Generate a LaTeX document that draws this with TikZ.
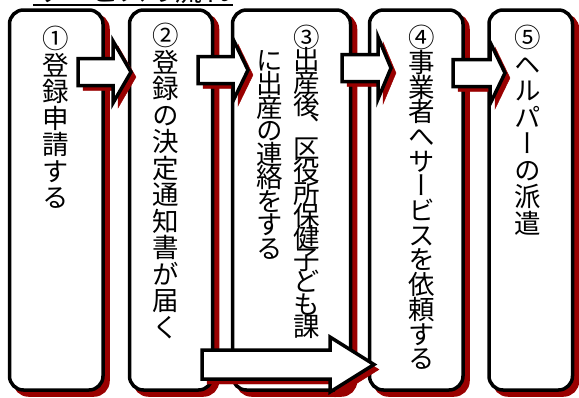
\documentclass[tikz,border=0pt]{standalone}
\usepackage{fontspec}
\usepackage{tikz}
\usetikzlibrary{shadows}
\newfontfamily\jpfont{Noto Sans CJK JP}
\newfontfamily\jpvert[RawFeature=+vert]{Noto Sans CJK JP}
\definecolor{shadowred}{RGB}{153,0,0}

\begin{document}
\begin{tikzpicture}
  [x=1pt,y=-1pt,
   stepbox/.style={draw,fill=white,line width=3.5pt,rounded corners=14pt,minimum height=380pt,inner sep=0pt,
     drop shadow={shadow xshift=5pt,shadow yshift=-5pt,fill=shadowred,draw=shadowred,opacity=1}},
   steptext/.style={anchor=north,align=center,inner sep=0pt,
     font={\jpvert\fontsize{26.5}{#1}\selectfont\lineskiplimit=-100pt}},
   steptext/.default=26.5,
   flowarrow/.style={draw,fill=white,line width=3.5pt,line join=miter,
     drop shadow={shadow xshift=5pt,shadow yshift=-5pt,fill=shadowred,draw=shadowred,opacity=1}}]

  \useasboundingbox (0,0) rectangle (579,397);
  \clip (0,0) rectangle (579,397);

  \node[font=\jpfont\fontsize{28}{30}\selectfont,anchor=base,inner sep=2pt] (title) at (133,1.5) {サービスの流れ};
  \draw[line width=2pt] ([yshift=-3.5pt]title.base west) -- ([yshift=-3.5pt]title.base east);

  \foreach \name/\cx/\w in {s1/56.25/93.5, s2/171/83, s3/291.5/118, s4/416.25/93.5, s5/530.75/83.5}
    \node[stepbox,minimum width=\w pt] (\name) at (\cx,200) {};

  \node[steptext] (t1) at (56,26) {①\\登\\録\\申\\請\\す\\る};
  \node[steptext] (t2) at (166,23) {②\\登\\録\\の\\決\\定\\通\\知\\書\\が\\届\\く};
  \node[steptext=22.2] (t3a) at (307,25) {③\\出\\産\\後\\、\\区\\役\\所\\保\\健\\子\\ど\\も\\課};
  \node[steptext=23.5] (t3b) at (270,50) {に\\出\\産\\の\\連\\絡\\を\\す\\る};
  \node[steptext=24.7] (t4) at (422,25) {④\\事\\業\\者\\へ\\サ\\ー\\ビ\\ス\\を\\依\\頼\\す\\る};
  \node[steptext] (t5) at (528,25) {⑤\\ヘ\\ル\\パ\\ー\\の\\派\\遣};

  \foreach \xa/\xb/\xc/\ym in {78/113/131/72, 198/233/248/70, 342/378/391/68, 453/490/505/73}
    \draw[flowarrow] (\xa,\ym-13.5) -- (\xb,\ym-13.5) -- (\xb,\ym-31) -- (\xc,\ym)
      -- (\xb,\ym+31) -- (\xb,\ym+13.5) -- (\xa,\ym+13.5) -- cycle;

  \draw[flowarrow] (202,350) -- (330,350) -- (330,337) -- (374,364.5)
    -- (330,392) -- (330,379) -- (202,379) -- cycle;

\end{tikzpicture}
\end{document}
